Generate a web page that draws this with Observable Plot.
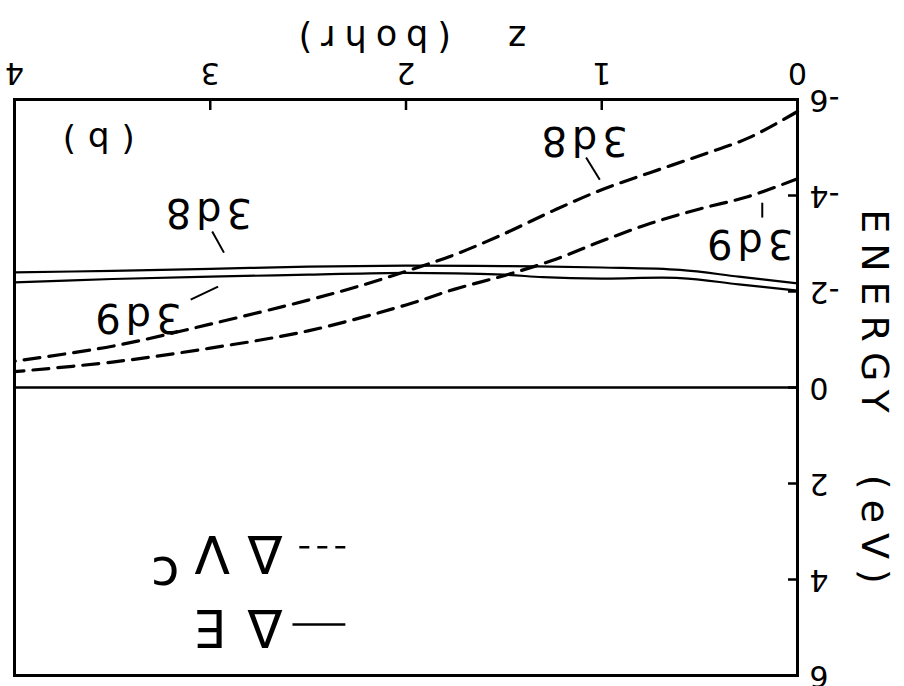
<!DOCTYPE html>
<html>
<head>
<meta charset="utf-8">
<script src="https://cdn.jsdelivr.net/npm/d3@7"></script>
<script src="https://cdn.jsdelivr.net/npm/@observablehq/plot@0.6"></script>
<style>
  html, body { margin: 0; padding: 0; background: #fff; }
  /* the figure is printed upside down */
  #chart { width: 904px; height: 686px; transform: rotate(180deg); transform-origin: 50% 50%; }
</style>
</head>
<body>
<div id="chart"></div>
<script>
// separation z (bohr) and energies (eV)
const zSolid8 = [0, 0.3, 0.6, 1.0, 1.5, 2.0, 2.5, 3.0, 3.5, 4.0];
const eSolid8 = [-2.17, -2.31, -2.45, -2.5, -2.53, -2.54, -2.52, -2.47, -2.43, -2.4];
const zSolid9 = [0, 0.3, 0.6, 1.0, 1.3, 1.5, 2.0, 2.5, 3.0, 3.5, 4.0];
const eSolid9 = [-2.02, -2.15, -2.28, -2.27, -2.3, -2.35, -2.39, -2.35, -2.31, -2.26, -2.19];

const zDash8 = [0, 0.25, 0.5, 0.75, 1, 1.25, 1.5, 1.75, 2, 2.25, 2.5, 3, 3.5, 4];
const eDash8 = [-5.75, -5.2, -4.83, -4.48, -4.12, -3.68, -3.2, -2.77, -2.42, -2.1, -1.82, -1.32, -0.86, -0.55];
const zDash9 = [0, 0.25, 0.5, 0.75, 1, 1.25, 1.5, 1.75, 2, 2.5, 3, 3.5, 4];
const eDash9 = [-4.35, -3.98, -3.72, -3.42, -3.05, -2.65, -2.33, -2.05, -1.72, -1.18, -0.82, -0.53, -0.33];

// curve labels and their leader lines
const labelText = ["3d8", "3d9", "3d8", "3d9", "(b)"];
const labelZ = [1.1, 0.255, 3.02, 3.38, 3.6];
const labelE = [-5.17, -3.02, -3.65, -1.48, -5.17];
const labelSize = [40, 40, 40, 40, 34];

const leaderZ1 = [1.08, 0.18, 2.99, 3.1];
const leaderE1 = [-4.79, -3.85, -3.25, -1.83];
const leaderZ2 = [1.01, 0.18, 2.93, 2.96];
const leaderE2 = [-4.33, -3.54, -2.81, -2.1];

// legend: line samples and symbols
const keyZ1 = [2.31, 2.31];
const keyZ2 = [2.58, 2.55];
const keyE = [4.94, 3.33];
const keyDash = [null, "10,8"];
const keyGlyph = ["Δ", "E", "Δ", "V", "c"];
const keyGlyphZ = [2.72, 3.0, 2.72, 2.99, 3.23];
const keyGlyphE = [4.98, 4.98, 3.44, 3.44, 3.88];

const xTicks = [0, 1, 2, 3, 4];
const yTicks = [-6, -4, -2, 0, 2, 4, 6];

const rows = (zs, es) => zs.map((z, i) => ({z, e: es[i]}));
const labels = labelText.map((t, i) => ({t, z: labelZ[i], e: labelE[i], s: labelSize[i]}));
const leaders = leaderZ1.map((z1, i) => ({z1, e1: leaderE1[i], z2: leaderZ2[i], e2: leaderE2[i]}));
const keys = keyZ1.map((z1, i) => ({z1, z2: keyZ2[i], e: keyE[i], d: keyDash[i]}));
const glyphs = keyGlyph.map((t, i) => ({t, z: keyGlyphZ[i], e: keyGlyphE[i]}));

const dash = "16,9";

const chart = Plot.plot({
  width: 904,
  height: 686,
  marginLeft: 106,
  marginRight: 15,
  marginTop: 10,
  marginBottom: 100,
  x: {domain: [0, 4]},
  y: {domain: [-6, 6]},
  style: {fontFamily: "'DejaVu Sans', sans-serif", color: "#000", background: "#fff"},
  marks: [
    Plot.ruleY([0], {strokeWidth: 2.5}),
    Plot.line(rows(zSolid8, eSolid8), {x: "z", y: "e", strokeWidth: 2.2, curve: "catmull-rom"}),
    Plot.line(rows(zSolid9, eSolid9), {x: "z", y: "e", strokeWidth: 2.2, curve: "catmull-rom"}),
    Plot.line(rows(zDash8, eDash8), {x: "z", y: "e", strokeWidth: 3.2, strokeDasharray: dash, curve: "catmull-rom"}),
    Plot.line(rows(zDash9, eDash9), {x: "z", y: "e", strokeWidth: 3.2, strokeDasharray: dash, curve: "catmull-rom"}),
    Plot.link(leaders, {x1: "z1", y1: "e1", x2: "z2", y2: "e2", strokeWidth: 2}),
    Plot.text(labels.filter(d => d.s === 40), {x: "z", y: "e", text: "t", fontSize: 40}),
    Plot.text(labels.filter(d => d.s !== 40), {x: "z", y: "e", text: "t", fontSize: 34}),
    Plot.link(keys.filter(d => !d.d), {x1: "z1", x2: "z2", y1: "e", y2: "e", strokeWidth: 2.5}),
    Plot.link(keys.filter(d => d.d), {x1: "z1", x2: "z2", y1: "e", y2: "e", strokeWidth: 2.5, strokeDasharray: "10,8"}),
    Plot.text(glyphs, {x: "z", y: "e", text: "t", fontSize: 52}),
    Plot.axisX(xTicks, {tickSize: -10, strokeWidth: 2.5, fill: "none", label: null}),
    Plot.axisX(xTicks, {tickSize: 0, tickPadding: 15, fontSize: 30, label: null, tickFormat: d => String(d)}),
    Plot.axisY(yTicks, {tickSize: -10, strokeWidth: 2.5, fill: "none", label: null}),
    Plot.axisY(yTicks, {tickSize: 0, tickPadding: 12, fontSize: 30, label: null, tickFormat: d => String(d)}),
    Plot.text(["z (bohr)"], {frameAnchor: "bottom", lineAnchor: "middle", textAnchor: "middle", dy: 62, dx: -2, fontSize: 35}),
    Plot.text(["ENERGY (eV)"], {frameAnchor: "left", lineAnchor: "middle", textAnchor: "middle", dx: -77, dy: -14, rotate: -90, fontSize: 38}),
    Plot.frame({strokeWidth: 3})
  ]
});

// wide plotter-style lettering
const spacing = {
  "3d8": [5, 0], "3d9": [5, 0], "(b)": [12, 0],
  "z (bohr)": [9, 28], "ENERGY (eV)": [10, 30]
};
d3.select(chart).selectAll("text").each(function () {
  const s = spacing[this.textContent];
  if (s) {
    this.setAttribute("letter-spacing", s[0]);
    if (s[1]) this.setAttribute("word-spacing", s[1]);
  }
});

document.getElementById("chart").appendChild(chart);
</script>
</body>
</html>
